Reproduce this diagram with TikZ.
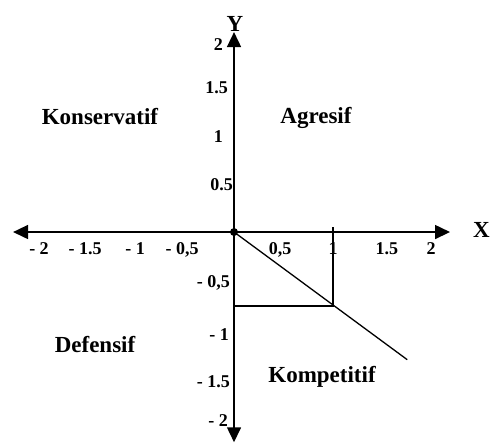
\documentclass[tikz,border=0pt]{standalone}
\usepackage{fontspec}
\setmainfont{Liberation Serif}
\usetikzlibrary{arrows.meta}

\begin{document}
\begin{tikzpicture}[x=99pt, y=96pt,
        >={Triangle[length=15pt,width=14pt]},
        axis/.style={line width=1.6pt, <->},
        guide/.style={line width=1.3pt},
        quad/.style={font=\fontsize{23}{25}\selectfont\bfseries, anchor=base, inner sep=0pt},
        tick/.style={font=\fontsize{18}{20}\selectfont\bfseries, anchor=base, inner sep=0pt},
        ylab/.style={tick, anchor=base east}]
      \useasboundingbox (-2.364,-2.198) rectangle (2.606,2.417);
      \coordinate (xl) at (-2.232,0);
      \coordinate (xr) at ( 2.182,0);
      \coordinate (yt) at (0, 2.083);
      \coordinate (yb) at (0,-2.19);
      \coordinate (tk) at (1, 0.05);
      \coordinate (cr) at (1,-0.77);
      \coordinate (cl) at (0,-0.77);
      \coordinate (dend) at (1.75,-1.33);
      \draw[axis] (xl) -- (xr);
      \draw[axis] (yb) -- (yt);
      \node[circle, fill, inner sep=0pt, minimum size=8pt] (o) at (0,0) {};
      \draw[guide] (tk) -- (cr) -- (cl);
      \draw[guide] (o.center) -- (dend);
      \node[quad] (xlab) at (2.50,-0.052) {X};
      \node[quad] (ylab) at (0.01,2.09) {Y};
      \node[quad] (kons) at (-1.354, 1.115) {Konservatif};
      \node[quad] (agr)  at ( 0.828, 1.135) {Agresif};
      \node[quad] (def)  at (-1.404,-1.26) {Defensif};
      \node[quad] (komp) at ( 0.889,-1.5625) {Kompetitif};
      \foreach \x/\t in {-1.97/{- 2},-1.505/{- 1.5},-1.0/{- 1},-0.525/{- 0,5},0.465/{0,5},1.0/{1},1.545/{1.5},1.99/{2}}
        \node[tick] (x\x) at (\x,-0.23) {\t};
      \foreach \y/\xx/\t in {1.896/-0.11/{2},1.448/-0.06/{1.5},0.9375/-0.11/{1},0.4375/-0.01/{0.5},-0.583/-0.04/{- 0,5},-1.125/-0.05/{- 1},-1.615/-0.04/{- 1.5},-2.03/-0.06/{- 2}}
        \node[ylab] (y\y) at (\xx,\y) {\t};
\end{tikzpicture}
\end{document}
